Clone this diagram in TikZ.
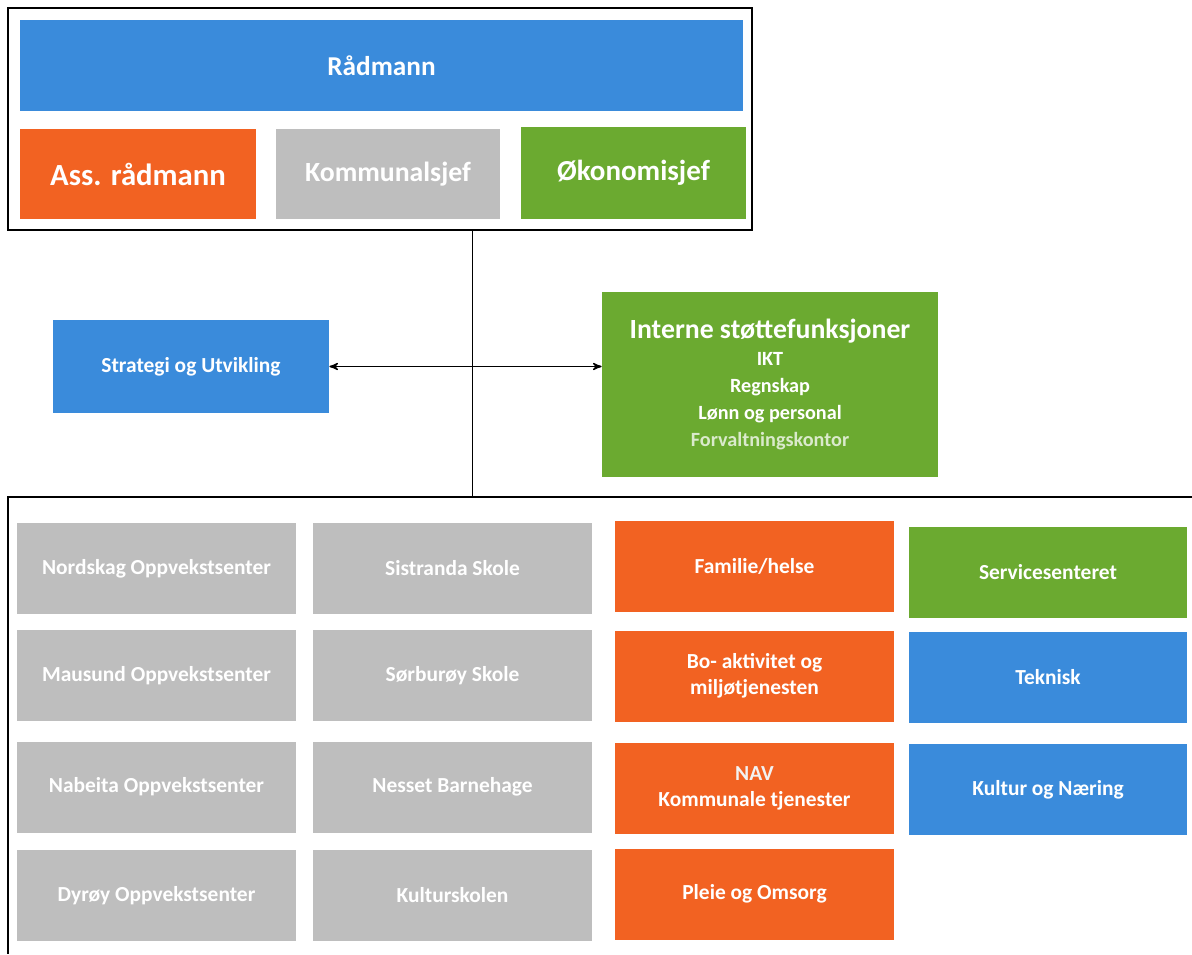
\documentclass[tikz,border=0pt]{standalone}
\usepackage{fontspec}
\setmainfont{Carlito}
\usetikzlibrary{arrows}

\definecolor{orgblue}{RGB}{58,139,219}
\definecolor{orgorange}{RGB}{242,98,34}
\definecolor{orggray}{RGB}{190,190,190}
\definecolor{orggreen}{RGB}{107,170,48}

\begin{document}
\begin{tikzpicture}[x=0.02cm,y=-0.02cm,>=stealth',
  box/.style={rectangle,inner sep=2pt,align=center,text=white,font=\bfseries\fontsize{12.2}{15}\selectfont},
  bluebox/.style={box,fill=orgblue},
  orangebox/.style={box,fill=orgorange},
  graybox/.style={box,fill=orggray},
  greenbox/.style={box,fill=orggreen},
  cell/.style={minimum width=5.57cm,minimum height=1.82cm},
  headbox/.style={font=\bfseries\fontsize{16.5}{20}\selectfont}]

\useasboundingbox (0,0) rectangle (1192,954);

\node[draw,thick,minimum width=14.88cm,minimum height=4.44cm] (top) at (380,119) {};
	\node[bluebox,headbox,minimum width=14.46cm,minimum height=1.82cm,font=\bfseries\fontsize{15.5}{20}\selectfont] (radmann) at (381.5,65.5) {Rådmann};
 \node[orangebox,headbox,minimum width=4.72cm,minimum height=1.8cm,font=\bfseries\fontsize{17.5}{20}\selectfont] (ass) at (138,174) {Ass. rådmann};
	\node[graybox,headbox,minimum width=4.48cm,minimum height=1.8cm,font=\bfseries\fontsize{15.8}{20}\selectfont] (komm) at (388,174) {Kommunalsjef};
	\node[greenbox,headbox,minimum width=4.5cm,minimum height=1.84cm] (okon) at (633.5,173) {Økonomisjef};

\node[bluebox,minimum width=5.52cm,minimum height=1.86cm] (strat) at (191,366.5) {Strategi og Utvikling};
\node[greenbox,minimum width=6.72cm,minimum height=3.7cm,font=\bfseries\fontsize{11.5}{15.4}\selectfont] (intern) at (770,384.5)
	{{\fontsize{15.8}{18}\selectfont Interne støttefunksjoner}\\IKT\\Regnskap\\Lønn og personal\\{\color{white!75!orggreen}Forvaltningskontor}};

\coordinate (hub) at (472,497);
	\draw[thick] (hub -| 1192,0) -- (8,497) -- (8,954);

% skoler og oppvekst
\node[graybox,cell] (nordskag) at (156.5,568.5) {Nordskag Oppvekstsenter};
\node[graybox,cell] (mausund) at (156.5,675.5) {Mausund Oppvekstsenter};
\node[graybox,cell] (nabeita) at (156.5,787) {Nabeita Oppvekstsenter};
\node[graybox,cell] (dyroy) at (156.5,895.5) {Dyrøy Oppvekstsenter};
\node[graybox,cell] (sistranda) at (452.5,568.5) {Sistranda Skole};
\node[graybox,cell] (sorburoy) at (452.5,675.5) {Sørburøy Skole};
\node[graybox,cell] (nesset) at (452.5,787) {Nesset Barnehage};
\node[graybox,cell] (kultursk) at (452.5,895.5) {Kulturskolen};

% helse og omsorg
\node[orangebox,cell] (familie) at (754.5,566.5) {Familie/helse};
\node[orangebox,cell] (bo) at (754.5,676) {Bo- aktivitet og\\miljøtjenesten};
\node[orangebox,cell] (nav) at (754.5,788.5) {{\color{white!80!orggray}NAV}\\Kommunale tjenester};
\node[orangebox,cell] (pleie) at (754.5,894) {Pleie og Omsorg};

\node[greenbox,cell] (service) at (1048,572.5) {Servicesenteret};
\node[bluebox,cell] (teknisk) at (1048,677.5) {Teknisk};
\node[bluebox,cell] (kultur) at (1048,789.5) {Kultur og Næring};

\draw (top.south -| hub) -- (hub);
\draw[thick,<->] (strat.east) -- (strat.east -| intern.west);

\end{tikzpicture}
\end{document}
